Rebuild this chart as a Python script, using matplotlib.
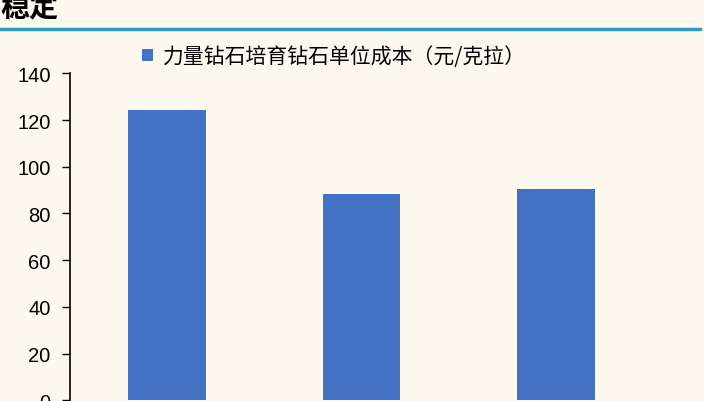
import matplotlib.pyplot as plt
from matplotlib.patches import Patch

# data
categories = ['A', 'B', 'C']
unit_cost = [124.4, 88.4, 90.3]
series_name = '力量钻石培育钻石单位成本（元/克拉）'
y_ticks = [0, 20, 40, 60, 80, 100, 120, 140]

bg = '#FDF9EF'
bar_color = '#4472C4'

plt.rcParams['font.family'] = ['Noto Sans CJK SC', 'DejaVu Sans']

fig = plt.figure(figsize=(7.04, 4.02), dpi=100, facecolor=bg)

# cut-off heading at the top and the teal rule under it
fig.text(0.0, 1.02, '稳定', fontsize=21, fontweight='bold', ha='left', va='top')
fig.add_artist(plt.Line2D([0, 0.995], [0.926, 0.926], color='#2A9BC9', lw=2.5))

ax = fig.add_axes([0.0994, 0.002, 0.828, 0.813])
ax.set_facecolor(bg)
x = range(len(categories))
ax.bar(x, unit_cost, width=0.4, color=bar_color)

ax.set_xlim(-0.5, len(categories) - 0.5)
ax.set_ylim(0, 140)
ax.set_yticks(y_ticks)
ax.set_yticklabels([str(t) for t in y_ticks], fontsize=14.5, family='Liberation Sans')
ax.tick_params(axis='y', direction='out', length=6, width=1, pad=8)
ax.set_xticks([])
# x axis sits just below the visible area in the reference
for s in ['top', 'right', 'bottom']:
    ax.spines[s].set_visible(False)
ax.spines['left'].set_linewidth(1.2)

handle = Patch(facecolor=bar_color, edgecolor='none')
fig.legend([handle], [series_name], loc='center', bbox_to_anchor=(0.475, 0.858),
           frameon=False, fontsize=15, handlelength=0.5, handleheight=0.5,
           handletextpad=0.5)

fig.savefig('out.png', dpi=100, facecolor=bg)
